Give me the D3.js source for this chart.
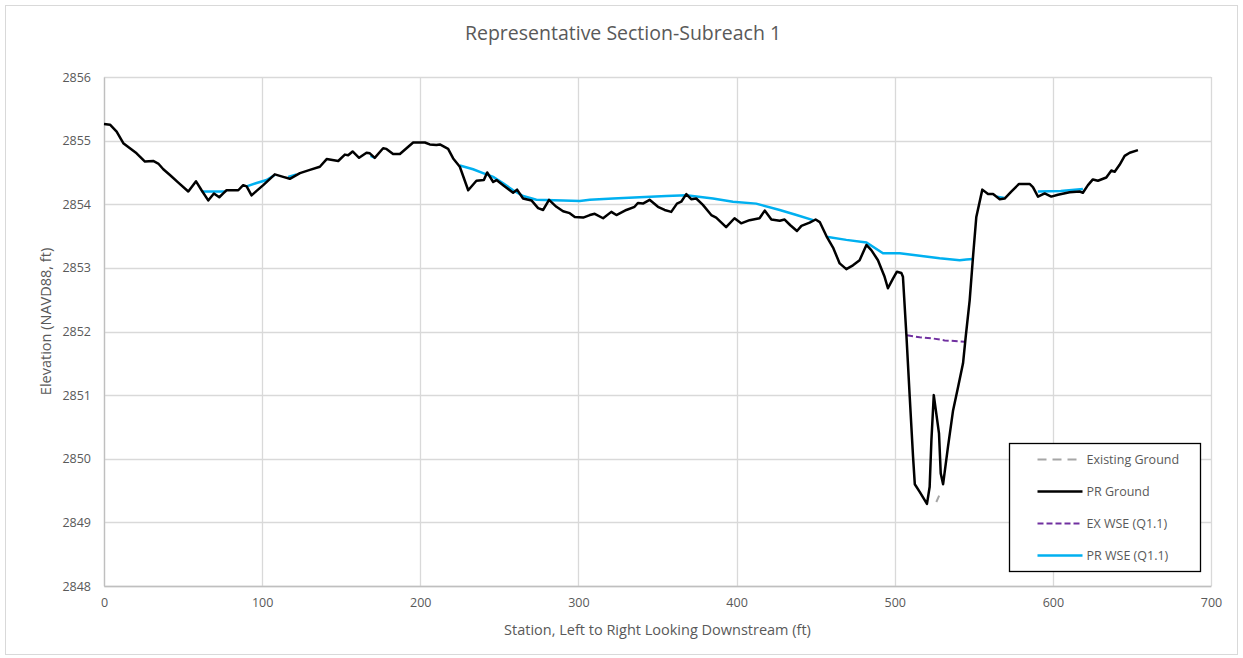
<!DOCTYPE html>
<html>
<head>
<meta charset="utf-8">
<script src="https://cdn.jsdelivr.net/npm/d3@7"></script>
<style>
  body { margin: 0; background: #fff; font-family: "Open Sans", "Noto Sans", sans-serif; }
</style>
</head>
<body>
<div id="chart"></div>
<script>
// Station (ft) / elevation (ft) pairs
const prGround = [
  [0, 2855.26], [3.8, 2855.25], [8, 2855.14], [12.2, 2854.96], [16.4, 2854.88], [20.6, 2854.8],
  [25.9, 2854.67], [31.1, 2854.68], [34.3, 2854.64], [37.5, 2854.55], [41.7, 2854.46], [47, 2854.34],
  [53.3, 2854.2], [58.2, 2854.36], [61.7, 2854.22], [65.9, 2854.06], [69.5, 2854.17], [72.9, 2854.11],
  [75.4, 2854.17], [77.5, 2854.22], [84.9, 2854.22], [88, 2854.3], [90.2, 2854.28], [93.3, 2854.14],
  [96.5, 2854.21], [100.7, 2854.3], [108, 2854.47], [113.3, 2854.43], [117.5, 2854.4], [123.9, 2854.49],
  [130.2, 2854.54], [136.5, 2854.59], [140.8, 2854.71], [148.1, 2854.68], [152.3, 2854.78], [154.4, 2854.77],
  [157.2, 2854.83], [161.3, 2854.73], [166, 2854.81], [168.1, 2854.8], [171.2, 2854.73], [176.5, 2854.88],
  [178.6, 2854.87], [182.8, 2854.79], [187.1, 2854.79], [191.3, 2854.88], [195.5, 2854.97], [202.9, 2854.97],
  [206, 2854.94], [210.2, 2854.93], [212.4, 2854.94], [217.6, 2854.87], [220.8, 2854.72], [225, 2854.59],
  [230.3, 2854.22], [235.5, 2854.37], [240.2, 2854.38], [242.3, 2854.5], [246.1, 2854.35], [248.2, 2854.38],
  [252.4, 2854.3], [258.7, 2854.18], [261.2, 2854.23], [265, 2854.09], [270.3, 2854.06], [274.5, 2853.94],
  [277.7, 2853.91], [281.4, 2854.07], [286.1, 2853.96], [290.3, 2853.89], [294.5, 2853.86], [297.7, 2853.8],
  [303, 2853.79], [307.2, 2853.83], [310.3, 2853.85], [315.6, 2853.78], [320.8, 2853.88], [324, 2853.83],
  [330.3, 2853.91], [335.5, 2853.96], [337.6, 2854.02], [340.8, 2854.01], [345, 2854.07], [350.3, 2853.96],
  [354.5, 2853.91], [358.7, 2853.88], [362.3, 2854.01], [365, 2854.04], [368.2, 2854.16], [371.3, 2854.08],
  [374.5, 2854.09], [378.7, 2853.99], [384, 2853.83], [387.1, 2853.79], [393.4, 2853.64], [398.7, 2853.78],
  [402.9, 2853.7], [408.2, 2853.75], [414.5, 2853.78], [417.8, 2853.9], [422, 2853.76], [427.3, 2853.74],
  [430.4, 2853.76], [434, 2853.67], [438.2, 2853.58], [441, 2853.66], [446.2, 2853.71], [450, 2853.76],
  [452.6, 2853.72], [456.8, 2853.5], [461, 2853.32], [465.2, 2853.07], [469.4, 2852.98], [473.6, 2853.04],
  [477.8, 2853.12], [482.1, 2853.36], [485.2, 2853.28], [489.4, 2853.12], [493.6, 2852.86], [495.7, 2852.68],
  [498.9, 2852.83], [501.4, 2852.94], [504.2, 2852.92], [505.2, 2852.86], [507.4, 2851.94], [509.5, 2850.97],
  [511.6, 2850.03], [512.7, 2849.6], [515.8, 2849.48], [520.4, 2849.29], [522.1, 2849.56], [523.2, 2850.29],
  [524.7, 2851.0], [528, 2850.4], [529.1, 2849.77], [530.6, 2849.6], [533.7, 2850.19], [536.9, 2850.76],
  [540.1, 2851.13], [543.2, 2851.5], [544.9, 2851.92], [547.4, 2852.49], [549.5, 2853.17], [551.6, 2853.8],
  [555.4, 2854.23], [559, 2854.16], [562.2, 2854.16], [566.4, 2854.08], [569.5, 2854.09], [573.7, 2854.2],
  [578.6, 2854.32], [585.3, 2854.32], [587.4, 2854.27], [590.6, 2854.12], [594.8, 2854.17], [599, 2854.12],
  [603.2, 2854.15], [610.6, 2854.19], [617, 2854.2], [619, 2854.18], [622.2, 2854.3], [625.3, 2854.39],
  [628.5, 2854.37], [633.8, 2854.42], [637, 2854.53], [639.1, 2854.51], [642.2, 2854.62], [645.4, 2854.76],
  [648.6, 2854.81], [653.8, 2854.85]
];

// only the short stretch where existing ground shows below the proposed channel
const exGround = [[526.3, 2849.32], [529.2, 2849.48]];

const exWse = [[507.8, 2851.94], [515.8, 2851.91], [524.2, 2851.89], [531.6, 2851.86], [544.2, 2851.84]];

// PR WSE is broken into pieces wherever the ground rises above it
const prWse = [
  [[61.7, 2854.2], [76.5, 2854.2]],
  [[90.2, 2854.28], [96, 2854.33], [102.8, 2854.38], [108, 2854.46]],
  [[116.5, 2854.43], [121.8, 2854.47]],
  [[168.5, 2854.76], [171.5, 2854.73]],
  [[225, 2854.61], [233.4, 2854.55], [239.7, 2854.49], [246.1, 2854.43], [252.4, 2854.33], [258.7, 2854.22],
   [265, 2854.13], [273.4, 2854.07], [290.3, 2854.06], [300.9, 2854.05], [307.2, 2854.07], [321.9, 2854.09],
   [338.7, 2854.11], [355.6, 2854.13], [368.2, 2854.14], [385.1, 2854.09], [397.7, 2854.04], [412.4, 2854.01],
   [427.3, 2853.91], [437.9, 2853.83], [448.4, 2853.75]],
  [[456.8, 2853.49], [469.4, 2853.44], [482.1, 2853.4], [492.6, 2853.23], [503.2, 2853.23], [515.8, 2853.19],
   [528.4, 2853.15], [541.1, 2853.12], [545.3, 2853.13], [549.5, 2853.14]],
  [[564.5, 2854.12], [569.5, 2854.1]],
  [[590.5, 2854.2], [605, 2854.21], [619, 2854.24]]
];

const xTicks = [0, 100, 200, 300, 400, 500, 600, 700];
const yTicks = [2848, 2849, 2850, 2851, 2852, 2853, 2854, 2855, 2856];

const legendItems = [
  { name: "Existing Ground", color: "#a6a6a6", dash: "9,6", width: 2 },
  { name: "PR Ground", color: "#000000", dash: null, width: 2.5 },
  { name: "EX WSE (Q1.1)", color: "#7030a0", dash: "6,3", width: 2 },
  { name: "PR WSE (Q1.1)", color: "#00b0f0", dash: null, width: 2.5 }
];

const W = 1243, H = 658;
const margin = { top: 77, right: 32, bottom: 72, left: 104 };
const width = W - margin.left - margin.right;
const height = H - margin.top - margin.bottom;

const svg = d3.select("#chart").append("svg")
  .attr("width", W)
  .attr("height", H);

// outer chart frame
svg.append("rect")
  .attr("x", 5.5).attr("y", 5.5)
  .attr("width", W - 11).attr("height", H - 9)
  .attr("fill", "#fff")
  .attr("stroke", "#d9d9d9");

svg.append("text")
  .attr("x", 623)
  .attr("y", 40)
  .attr("text-anchor", "middle")
  .attr("fill", "#595959")
  .style("font-size", "19.5px")
  .text("Representative Section-Subreach 1");

const g = svg.append("g").attr("transform", `translate(${margin.left},${margin.top})`);

const x = d3.scaleLinear().domain([0, 700]).range([0, width]);
const y = d3.scaleLinear().domain([2848, 2856]).range([height, 0]);

// gridlines
g.append("g")
  .selectAll("line.hgrid")
  .data(yTicks)
  .join("line")
  .attr("x1", 0).attr("x2", width)
  .attr("y1", d => Math.round(y(d)) + 0.5).attr("y2", d => Math.round(y(d)) + 0.5)
  .attr("stroke", "#d9d9d9").attr("stroke-width", 1.3);

g.append("g")
  .selectAll("line.vgrid")
  .data(xTicks)
  .join("line")
  .attr("x1", d => Math.round(x(d)) + 0.5).attr("x2", d => Math.round(x(d)) + 0.5)
  .attr("y1", 0).attr("y2", height)
  .attr("stroke", "#d9d9d9").attr("stroke-width", 1.3);

// axes
const xAxis = g.append("g")
  .attr("transform", `translate(0,${height})`)
  .call(d3.axisBottom(x).tickValues(xTicks).tickSize(0).tickPadding(12));
const yAxis = g.append("g")
  .call(d3.axisLeft(y).tickValues(yTicks).tickSize(0).tickPadding(13).tickFormat(d3.format("d")));

[xAxis, yAxis].forEach(a => {
  a.select(".domain").attr("stroke", "#bfbfbf").attr("stroke-width", 1.3);
  a.selectAll("text")
    .attr("fill", "#595959")
    .style("font-size", "12.5px")
    .style("font-family", "'Open Sans', sans-serif");
});

g.append("text")
  .attr("x", width / 2)
  .attr("y", height + 49)
  .attr("text-anchor", "middle")
  .attr("fill", "#595959")
  .style("font-size", "14.5px")
  .text("Station, Left to Right Looking Downstream (ft)");

g.append("text")
  .attr("transform", "rotate(-90)")
  .attr("x", -height / 2 + 10)
  .attr("y", -53)
  .attr("text-anchor", "middle")
  .attr("fill", "#595959")
  .style("font-size", "14.5px")
  .text("Elevation (NAVD88, ft)");

const line = d3.line().x(d => x(d[0])).y(d => y(d[1])).curve(d3.curveLinear);

g.append("path")
  .datum(exGround)
  .attr("d", line)
  .attr("fill", "none")
  .attr("stroke", "#a6a6a6")
  .attr("stroke-width", 2)
  .attr("stroke-dasharray", "7,5");

g.selectAll("path.prwse")
  .data(prWse)
  .join("path")
  .attr("class", "prwse")
  .attr("d", line)
  .attr("fill", "none")
  .attr("stroke", "#00b0f0")
  .attr("stroke-width", 2.5);

g.append("path")
  .datum(exWse)
  .attr("d", line)
  .attr("fill", "none")
  .attr("stroke", "#7030a0")
  .attr("stroke-width", 2)
  .attr("stroke-dasharray", "6,3");

g.append("path")
  .datum(prGround)
  .attr("d", line)
  .attr("fill", "none")
  .attr("stroke", "#000")
  .attr("stroke-width", 2.5)
  .attr("stroke-linejoin", "round");

// legend
const legend = svg.append("g").attr("transform", "translate(1009.5,443.5)");
legend.append("rect")
  .attr("width", 191).attr("height", 128)
  .attr("fill", "#fff")
  .attr("stroke", "#000")
  .attr("stroke-width", 1.3);

const rows = legend.selectAll("g.item")
  .data(legendItems)
  .join("g")
  .attr("class", "item")
  .attr("transform", (d, i) => `translate(0,${16 + i * 32})`);

rows.append("line")
  .attr("x1", 28).attr("x2", 73)
  .attr("stroke", d => d.color)
  .attr("stroke-width", d => d.width)
  .attr("stroke-dasharray", d => d.dash);

rows.append("text")
  .attr("x", 77)
  .attr("dy", "0.35em")
  .attr("fill", "#595959")
  .style("font-size", "12.5px")
  .text(d => d.name);
</script>
</body>
</html>
